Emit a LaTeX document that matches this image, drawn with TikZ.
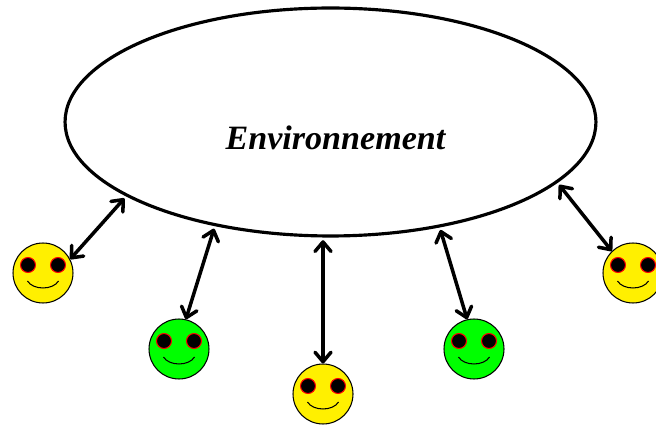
\documentclass[tikz,border=0pt]{standalone}
\usepackage{fontspec}
\setmainfont{Liberation Serif}
\usetikzlibrary{arrows.meta,shapes.geometric}

\definecolor{jaune}{RGB}{255,240,0}

\tikzset{
  monde/.style={draw, ellipse, line width=1.8pt, inner sep=0pt, minimum width=10.62cm, minimum height=4.56cm},
  tete/.style={draw, circle, line width=0.6pt, inner sep=0pt, minimum size=1.2cm},
  oeil/.style={draw=red, fill=black, line width=0.6pt},
  lien/.style={line width=2pt, line cap=round, shorten >=1.5pt, {Straight Barb[length=1.9mm,width=3.2mm,round]}-{Straight Barb[length=1.9mm,width=3.2mm,round]}}
}

\begin{document}
\begin{tikzpicture}[x=0.02cm,y=-0.02cm]
  \useasboundingbox (0,0) rectangle (656,425);

  % Environnement
  \node[monde] (env) at (330.5,122) {};
  \node (titre) at (335.5,138) {\fontsize{19.4pt}{22pt}\selectfont\bfseries\itshape Environnement};

  % Visages
  \foreach \nom/\x/\y/\coul in {a/43/273/jaune, b/179/349/green, c/323/394/jaune, d/474/349/green, e/633/273/jaune} {
    \node[tete, fill=\coul] (\nom) at (\x,\y) {};
    \draw[oeil] (\x-15,\y-8) circle (7.5);
    \draw[oeil] (\x+15,\y-8) circle (7.5);
    \draw[line width=0.6pt] (\x-15.5,\y+8) .. controls (\x-10,\y+17.3) and (\x+10,\y+17.3) .. (\x+15.5,\y+8);
  }

  % Liens
  \draw[lien] (a.27) -- (env.200.4);
  \draw[lien] (b.77) -- (env.222.5);
  \draw[lien] (c.north) -- (c.north |- env.south);
  \draw[lien] (d.103) -- (env.-44);
  \draw[lien] (e.134) -- (env.-15);
\end{tikzpicture}
\end{document}
